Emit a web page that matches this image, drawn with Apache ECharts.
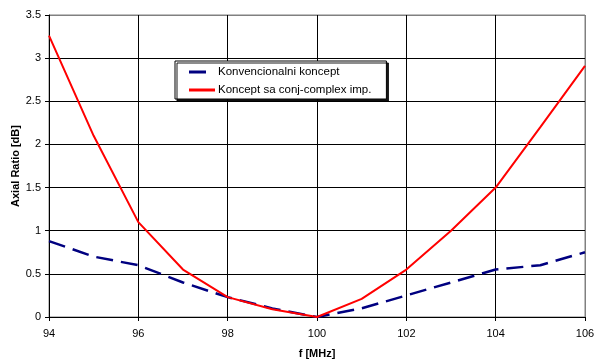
<!DOCTYPE html>
<html>
<head>
<meta charset="utf-8">
<script src="https://cdn.jsdelivr.net/npm/echarts@6/dist/echarts.min.js"></script>
<style>
  html, body { margin: 0; padding: 0; background: #fff; }
  #chart { width: 596px; height: 360px; }
</style>
</head>
<body>
<div id="chart"></div>
<script>
// frekvencije (MHz)
var freq = [94, 95, 96, 97, 98, 99, 100, 101, 102, 103, 104, 105, 106];
// konvencionalni koncept
var konvencionalni = [0.88, 0.70, 0.60, 0.40, 0.23, 0.10, 0, 0.10, 0.25, 0.40, 0.55, 0.60, 0.75];
// koncept sa conj-complex imp.
var conjComplex = [3.26, 2.10, 1.10, 0.55, 0.23, 0.09, 0, 0.21, 0.55, 1.00, 1.50, 2.20, 2.91];

var seriesNames = ['Konvencionalni koncept', 'Koncept sa conj-complex imp.'];

var pairs = function(ys) {
    var out = [];
    for (var i = 0; i < freq.length; i++) out.push([freq[i], ys[i]]);
    return out;
};

var font = 'Liberation Sans, Arial, sans-serif';
var chart = echarts.init(document.getElementById('chart'));

// gornja i desna linija mreze su sive kao okvir
var ySplitColors = ['#000', '#000', '#000', '#000', '#000', '#000', '#000', '#808080'];
var xSplitColors = ['#000', '#000', '#000', '#000', '#000', '#000', '#808080'];

var option = {
    animation: false,
    textStyle: { fontFamily: font },
    grid: {
        left: 49,
        right: 11,
        top: 15,
        bottom: 43,
        outerBoundsMode: 'none',
        containLabel: false,
        show: true,
        borderColor: '#808080',
        borderWidth: 1
    },
    legend: {
        orient: 'vertical',
        left: 175,
        top: 61,
        itemWidth: 26,
        itemHeight: 3,
        itemGap: 6,
        padding: [5, 15, 3, 14],
        backgroundColor: '#fff',
        borderColor: '#000',
        borderWidth: 1,
        borderRadius: 0,
        shadowColor: 'rgba(0,0,0,0.9)',
        shadowBlur: 0,
        shadowOffsetX: 2,
        shadowOffsetY: 2,
        textStyle: { fontSize: 11.5, color: '#000', fontFamily: font, padding: [0, 0, 0, -2] },
        data: [
            { name: seriesNames[0], icon: 'path://M0,0H17V3H0Z M26,0L26,3' },
            { name: seriesNames[1], icon: 'rect' }
        ]
    },
    xAxis: {
        type: 'value',
        min: 94,
        max: 106,
        interval: 2,
        name: 'f [MHz]',
        nameLocation: 'middle',
        nameGap: 31,
        nameMoveOverlap: false,
        nameTextStyle: { fontWeight: 'bold', fontSize: 11, color: '#000' },
        axisLine: { lineStyle: { color: '#000', width: 1 } },
        axisTick: { show: true, length: 4, lineStyle: { color: '#000' } },
        axisLabel: { fontSize: 11, color: '#000', margin: 11 },
        splitLine: { show: true, lineStyle: { color: xSplitColors, width: 1 } }
    },
    yAxis: {
        type: 'value',
        min: 0,
        max: 3.5,
        interval: 0.5,
        name: 'Axial Ratio [dB]',
        nameLocation: 'middle',
        nameGap: 28,
        nameMoveOverlap: false,
        nameTextStyle: { fontWeight: 'bold', fontSize: 11, color: '#000' },
        axisLine: { show: true, lineStyle: { color: '#000', width: 1 } },
        axisTick: { show: true, length: 4, lineStyle: { color: '#000' } },
        axisLabel: { fontSize: 11, color: '#000', margin: 8 },
        splitLine: { show: true, lineStyle: { color: ySplitColors, width: 1 } }
    },
    series: [{
        name: seriesNames[0],
        type: 'line',
        symbol: 'none',
        data: pairs(konvencionalni),
        lineStyle: { color: '#000080', width: 2.5, type: [17, 8] },
        itemStyle: { color: '#000080' },
        z: 3
    }, {
        name: seriesNames[1],
        type: 'line',
        symbol: 'none',
        data: pairs(conjComplex),
        lineStyle: { color: '#ff0000', width: 2 },
        itemStyle: { color: '#ff0000' },
        z: 4
    }]
};
chart.setOption(option);
</script>
</body>
</html>
